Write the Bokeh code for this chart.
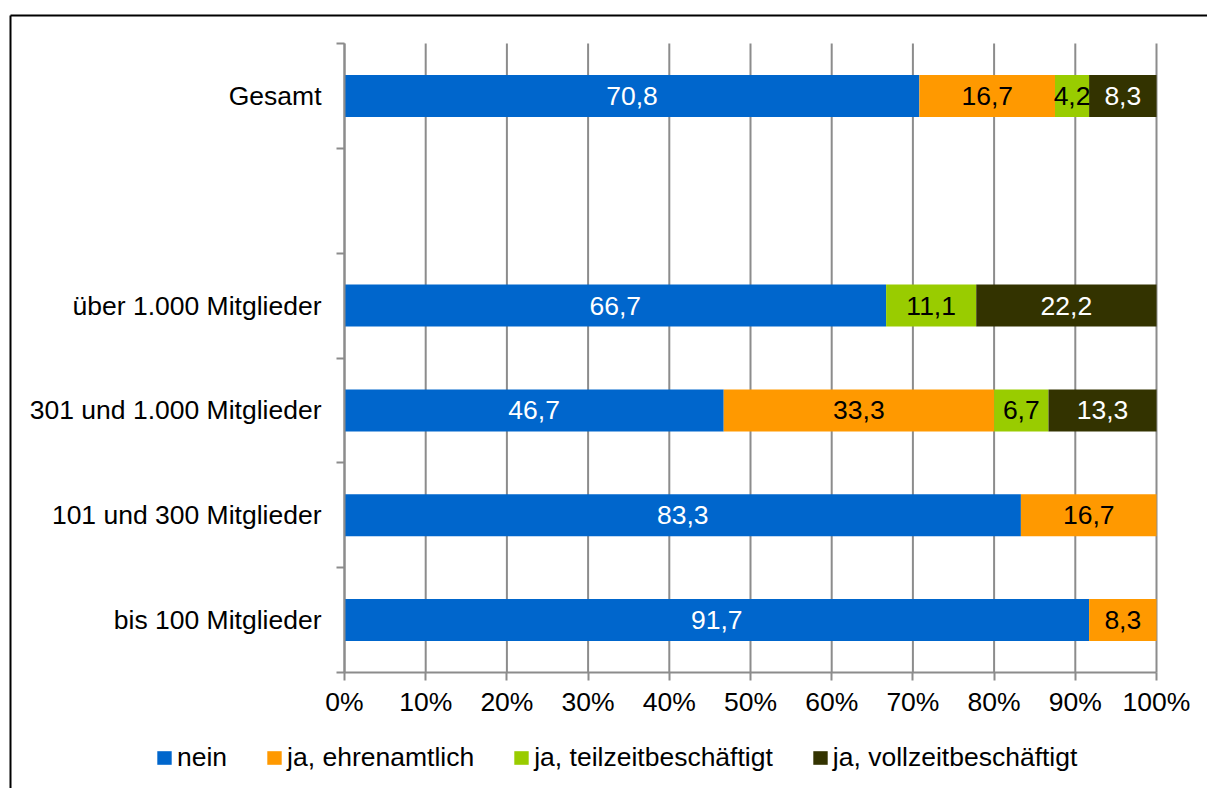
from bokeh.plotting import figure
from bokeh.models import (ColumnDataSource, Range1d, FixedTicker, Legend, LegendItem)
from bokeh.core.properties import value
from bokeh.embed import file_html
from bokeh.resources import INLINE

# ---- data ----
categories = ["Gesamt", "", "über 1.000 Mitglieder", "301 und 1.000 Mitglieder",
              "101 und 300 Mitglieder", "bis 100 Mitglieder"]
series_names = ["nein", "ja, ehrenamtlich", "ja, teilzeitbeschäftigt", "ja, vollzeitbeschäftigt"]
nein = [70.8, 0, 66.7, 46.7, 83.3, 91.7]
ehrenamtlich = [16.7, 0, 0, 33.3, 16.7, 8.3]
teilzeit = [4.2, 0, 11.1, 6.7, 0, 0]
vollzeit = [8.3, 0, 22.2, 13.3, 0, 0]
x_ticks = [0, 10, 20, 30, 40, 50, 60, 70, 80, 90, 100]

colors = ["#0066CC", "#FF9900", "#99CC00", "#333300"]
label_colors = ["white", "black", "black", "white"]
GRID = "#8c8c8c"
FONT = "Liberation Sans"
FS = "26.5px"

# ---- layout (canvas pixels) ----
W, H = 1207, 788
PX0, PX100 = 344, 1156      # canvas x of 0% and 100%
PY_TOP, PY_BOT = 43, 672    # canvas y (from top) of plot area top / bottom
n = len(categories)
sx = (PX100 - PX0) / 100.0
sy = (PY_BOT - PY_TOP) / float(n)
x_start = -PX0 / sx
x_end = x_start + W / sx
y_end = n + PY_TOP / sy
y_start = -(H - PY_BOT) / sy

ypos = [n - 0.5 - i for i in range(n)]
keys = ["nein", "ehren", "teil", "voll"]
data = dict(y=ypos, nein=nein, ehren=ehrenamtlich, teil=teilzeit, voll=vollzeit)
src = ColumnDataSource(data)

p = figure(width=W, height=H, output_backend="svg", toolbar_location=None, title=None,
           x_range=Range1d(x_start, x_end), y_range=Range1d(y_start, y_end),
           min_border=0)
p.min_border_left = p.min_border_right = p.min_border_top = p.min_border_bottom = 0
p.outline_line_color = None
p.background_fill_color = "white"
p.border_fill_color = "white"
p.xgrid.visible = False
p.ygrid.visible = False

# outer chart-area border (top and left)
bx = x_start + 10 / sx
by = y_end - 15 / sy
p.line(x=[bx, bx], y=[y_start - 1, by], line_color="black", line_width=2)
p.line(x=[bx, x_end + 1], y=[by, by], line_color="black", line_width=2)

# vertical gridlines
p.segment(x0=x_ticks, y0=[0] * len(x_ticks), x1=x_ticks, y1=[n] * len(x_ticks),
          line_color=GRID, line_width=2)

renderers = p.hbar_stack(keys, y="y", height=0.4, color=colors, source=src, line_width=0)

# value labels
for idx, (vals, lc) in enumerate(zip([nein, ehrenamtlich, teilzeit, vollzeit], label_colors)):
    xs, ys, txt = [], [], []
    for i in range(n):
        v = vals[i]
        if v and v > 0:
            left = sum(data[keys[j]][i] for j in range(idx))
            xs.append(left + v / 2)
            ys.append(ypos[i])
            txt.append(f"{v:.1f}".replace(".", ","))
    p.text(x=xs, y=ys, text=txt, text_color=lc, text_align="center",
           text_baseline="middle", text_font=value(FONT), text_font_size=FS)

# x axis
xa = p.xaxis[0]
xa.fixed_location = 0
xa.bounds = (0, 100)
xa.ticker = FixedTicker(ticks=x_ticks, minor_ticks=[])
xa.major_label_overrides = {t: f"{t}%" for t in x_ticks}
xa.axis_line_color = GRID
xa.axis_line_width = 2
xa.major_tick_line_color = GRID
xa.major_tick_line_width = 2
xa.major_tick_out = 8
xa.major_tick_in = 0
xa.major_label_text_font = FONT
xa.major_label_text_font_size = FS
xa.major_label_text_color = "black"
xa.major_label_standoff = 6

# y axis
ya = p.yaxis[0]
ya.fixed_location = 0
ya.bounds = (0, n)
ya.ticker = FixedTicker(ticks=ypos, minor_ticks=list(range(0, n + 1)))
ya.major_label_overrides = {y: c for y, c in zip(ypos, categories)}
ya.axis_line_color = GRID
ya.axis_line_width = 2
ya.major_tick_line_color = None
ya.major_tick_out = 0
ya.major_tick_in = 0
ya.minor_tick_line_color = GRID
ya.minor_tick_line_width = 2
ya.minor_tick_out = 8
ya.minor_tick_in = 0
ya.major_label_text_font = FONT
ya.major_label_text_font_size = FS
ya.major_label_text_color = "black"
ya.major_label_standoff = 15

legend = Legend(items=[LegendItem(label=nm, renderers=[r]) for nm, r in zip(series_names, renderers)],
                orientation="horizontal", location=(155, 15),
                glyph_width=18, glyph_height=17, label_standoff=4, spacing=38,
                padding=0, margin=0, border_line_color=None, background_fill_alpha=0,
                label_text_font=FONT, label_text_font_size=FS, label_text_color="black")
p.add_layout(legend, "center")

open("out.html", "w").write(file_html(p, INLINE))
